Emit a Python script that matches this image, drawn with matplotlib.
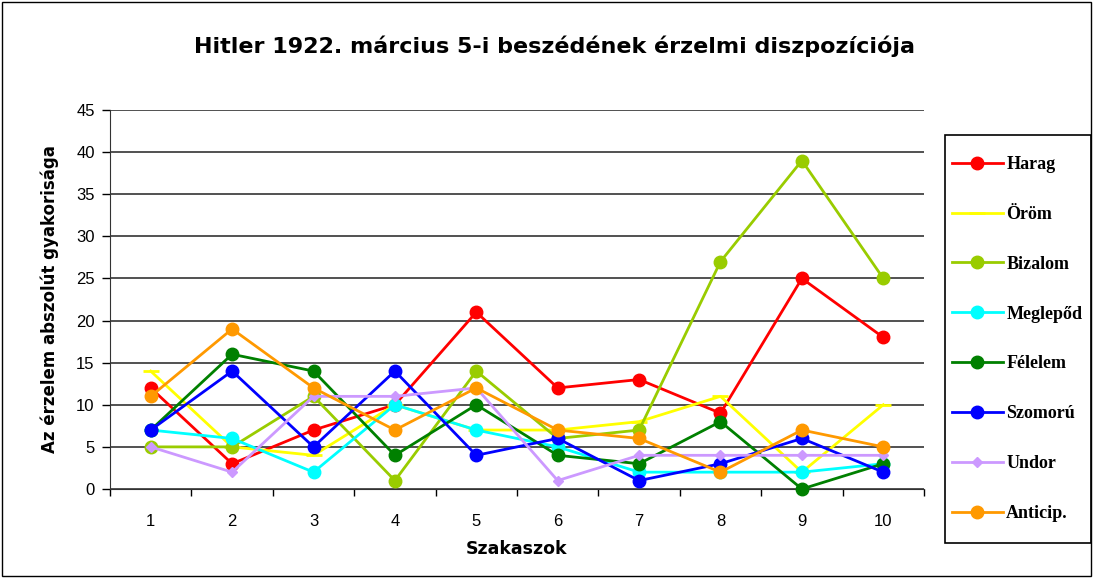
import matplotlib.pyplot as plt
import numpy as np

# adatok
szakaszok = list(range(1, 11))
harag = [12, 3, 7, 10, 21, 12, 13, 9, 25, 18]
orom = [14, 5, 4, 10, 7, 7, 8, 11, 2, 10]
bizalom = [5, 5, 11, 1, 14, 6, 7, 27, 39, 25]
meglepod = [7, 6, 2, 10, 7, 5, 2, 2, 2, 3]
felelem = [7, 16, 14, 4, 10, 4, 3, 8, 0, 3]
szomoru = [7, 14, 5, 14, 4, 6, 1, 3, 6, 2]
undor = [5, 2, 11, 11, 12, 1, 4, 4, 4, 4]
anticip = [11, 19, 12, 7, 12, 7, 6, 2, 7, 5]

nevek = ["Harag", "Öröm", "Bizalom", "Meglepőd", "Félelem", "Szomorú", "Undor", "Anticip."]
sorok = [harag, orom, bizalom, meglepod, felelem, szomoru, undor, anticip]
szinek = ["#ff0000", "#ffff00", "#99cc00", "#00ffff", "#008000", "#0000ff", "#cc99ff", "#ff9900"]
jelolok = ["o", "_", "o", "o", "o", "o", "D", "o"]
meretek = [9, 12, 9, 9, 9, 9, 5, 9]

W, H = 1093, 578
fig = plt.figure(figsize=(W / 100, H / 100), dpi=100)
ax = fig.add_axes([110 / W, 1 - 489 / H, 814 / W, 379 / H])

for y, nev, c, m, ms in zip(sorok, nevek, szinek, jelolok, meretek):
    ax.plot(szakaszok, y, color=c, lw=2, marker=m, ms=ms, mew=2 if m == "_" else 1,
            mec=c, label=nev, clip_on=False, zorder=3)

ax.set_xlim(0.5, 10.5)
ax.set_ylim(0, 45)
ax.set_yticks(np.arange(0, 46, 5))
ax.set_xticks(szakaszok)
ax.set_xticks(np.arange(0.5, 11, 1), minor=True)
ax.tick_params(axis="x", which="major", length=0, pad=18, labelsize=12)
ax.tick_params(axis="x", which="minor", length=5, width=1, direction="out")
ax.tick_params(axis="y", length=6, width=1, labelsize=12, pad=5)
for t in ax.get_xticklabels() + ax.get_yticklabels():
    t.set_family("Liberation Sans")
ax.grid(axis="y", color="#333333", lw=1.2, zorder=0)
for s in ["top", "right"]:
    ax.spines[s].set_visible(False)
ax.spines["left"].set_color("#333333")
ax.spines["bottom"].set_color("#333333")

ax.set_xlabel("Szakaszok", fontsize=12.5, fontweight="bold", labelpad=8)
ax.set_ylabel("Az érzelem abszolút gyakorisága", fontsize=12, fontweight="bold", labelpad=12)

fig.text(555 / W, 1 - 46 / H, "Hitler 1922. március 5-i beszédének érzelmi diszpozíciója",
         ha="center", va="center", fontsize=16, fontweight="bold")

# jelmagyarazat keret nelkul, a keretet kulon rajzoljuk
leg = fig.legend(loc="upper left", bbox_to_anchor=(952 / W, 1 - 156 / H),
                 frameon=False, handlelength=2.8, handletextpad=0.2,
                 labelspacing=1.82, borderpad=0, borderaxespad=0,
                 prop={"family": "Liberation Serif", "weight": "bold", "size": 13})
fig.patches.append(plt.Rectangle((945 / W, 1 - 543 / H), 146 / W, 408 / H,
                                 transform=fig.transFigure, fill=False,
                                 edgecolor="black", lw=1.2))

# keret a kep korul
fig.patches.append(plt.Rectangle((0.002, 0.003), 0.996, 0.994, transform=fig.transFigure,
                                 fill=False, edgecolor="black", lw=1))

fig.savefig("out.png", dpi=100)
